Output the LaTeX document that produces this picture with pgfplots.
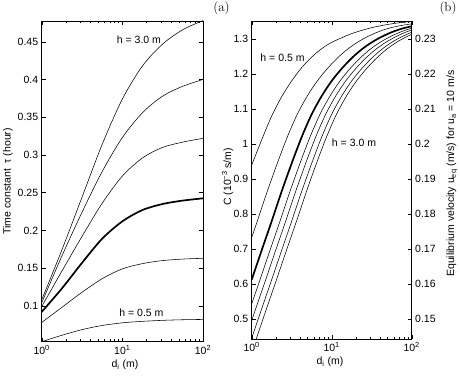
\documentclass[border=0pt]{standalone}
\usepackage{fontspec}
\newfontfamily\arial{Liberation Sans}
\usepackage{pgfplots}
\pgfplotsset{compat=1.18}

\pgfplotsset{
  matlab/.style={
    scale only axis, clip=true,
    font=\arial\fontsize{10.5}{12.5}\selectfont,
    xmin=0, xmax=2,
    xtick={0,1,2},
    xticklabels={10\textsuperscript{0},10\textsuperscript{1},10\textsuperscript{2}},
    minor xtick={0.30103,0.47712,0.60206,0.69897,0.77815,0.84510,0.90309,0.95424,
                 1.30103,1.47712,1.60206,1.69897,1.77815,1.84510,1.90309,1.95424},
    tick align=inside,
    major tick length=4pt, minor tick length=2.2pt,
    every tick/.style={black, line width=0.4pt},
    axis line style={black, line width=0.5pt},
    thin curve/.style={black, line width=0.55pt, smooth, no marks},
    thick curve/.style={black, line width=1.7pt, smooth, no marks},
  }
}

\begin{document}
\begin{tikzpicture}
\path[use as bounding box] (0,0) rectangle (460pt,377pt);

% ---- panel (a)
\begin{axis}[matlab,
  at={(41.7pt,35.3pt)}, anchor=south west,
  width=161.3pt, height=320.7pt,
  ymin=0.0525, ymax=0.4775,
  ytick={0.1,0.15,0.2,0.25,0.3,0.35,0.4,0.45},
  yticklabels={0.1,0.15,0.2,0.25,0.3,0.35,0.4,0.45},
  xlabel={d\textsubscript{i} (m)},
  xlabel style={at={(axis description cs:0.516,-0.073)}, anchor=center},
  ylabel={Time constant \ τ (hour)},
  ylabel style={at={(axis description cs:-0.209,0.5)}, anchor=center},
]
\addplot[thin curve] coordinates {(0,0.0525)(0.25,0.061)(0.5,0.0685)(0.75,0.074)(1,0.0775)(1.25,0.0795)(1.5,0.0808)(1.75,0.0816)(2,0.082)};
\addplot[thin curve] coordinates {(0,0.078)(0.25,0.098)(0.5,0.118)(0.75,0.136)(1,0.149)(1.25,0.156)(1.5,0.160)(1.75,0.162)(2,0.163)};
\addplot[thick curve] coordinates {(0,0.092)(0.25,0.123)(0.5,0.157)(0.75,0.189)(1,0.212)(1.25,0.227)(1.5,0.235)(1.75,0.2395)(2,0.2425)};
\addplot[thin curve] coordinates {(0,0.099)(0.25,0.146)(0.5,0.192)(0.75,0.236)(1,0.272)(1.25,0.296)(1.5,0.310)(1.75,0.317)(2,0.322)};
\addplot[thin curve] coordinates {(0,0.104)(0.25,0.166)(0.5,0.224)(0.75,0.278)(1,0.323)(1.25,0.356)(1.5,0.378)(1.75,0.391)(2,0.400)};
\addplot[thin curve] coordinates {(0,0.108)(0.25,0.174)(0.5,0.244)(0.75,0.314)(1,0.374)(1.25,0.418)(1.5,0.447)(1.75,0.466)(2,0.478)};
\node at (axis cs:1.206,0.4523) {h = 3.0 m};
\node at (axis cs:1.237,0.0907) {h = 0.5 m};
\end{axis}

% ---- panel (b), left scale
\begin{axis}[matlab,
  at={(251.7pt,38pt)}, anchor=south west,
  width=160pt, height=318pt,
  ymin=0.4437, ymax=1.351,
  ytick={0.5,0.6,0.7,0.8,0.9,1,1.1,1.2,1.3},
  yticklabels={0.5,0.6,0.7,0.8,0.9,1,1.1,1.2,1.3},
  ytick pos=left,
  xlabel={d\textsubscript{i} (m)},
  xlabel style={at={(axis description cs:0.489,-0.072)}, anchor=center},
  ylabel={C (10\textsuperscript{−3} s/m)},
  ylabel style={at={(axis description cs:-0.151,0.51)}, anchor=center},
]
% h = 0.5 m
\addplot[thin curve] coordinates {(0,0.94)(0.125,1.012)(0.25,1.08)(0.375,1.135)(0.5,1.18)(0.625,1.218)(0.75,1.248)(0.875,1.272)(1.0,1.29)(1.25,1.315)(1.5,1.332)(1.75,1.343)(2,1.35)};
% h = 1.0 m
\addplot[thin curve] coordinates {(-0.055,0.697)(0.07,0.78)(0.195,0.865)(0.32,0.945)(0.445,1.02)(0.57,1.085)(0.695,1.137)(0.82,1.18)(0.945,1.215)(1.07,1.245)(1.195,1.27)(1.32,1.29)(1.445,1.306)(1.57,1.319)(1.695,1.329)(1.82,1.336)(1.945,1.341)(2.07,1.345)};
% thick
\addplot[thick curve] coordinates {(0,0.613)(0.125,0.697)(0.25,0.78)(0.375,0.865)(0.5,0.945)(0.625,1.02)(0.75,1.085)(0.875,1.137)(1.0,1.18)(1.125,1.215)(1.25,1.245)(1.375,1.27)(1.5,1.29)(1.625,1.306)(1.75,1.319)(1.875,1.329)(2.0,1.336)};
\addplot[thin curve] coordinates {(-0.021,0.53)(0.104,0.613)(0.229,0.697)(0.354,0.78)(0.479,0.865)(0.604,0.945)(0.729,1.02)(0.854,1.085)(0.979,1.137)(1.104,1.18)(1.229,1.215)(1.354,1.245)(1.479,1.27)(1.604,1.29)(1.729,1.306)(1.854,1.319)(1.979,1.329)(2.104,1.336)};
\addplot[thin curve] coordinates {(-0.075,0.446)(0.05,0.53)(0.175,0.613)(0.3,0.697)(0.425,0.78)(0.55,0.865)(0.675,0.945)(0.8,1.02)(0.925,1.085)(1.05,1.137)(1.175,1.18)(1.3,1.215)(1.425,1.245)(1.55,1.27)(1.675,1.29)(1.8,1.306)(1.925,1.319)(2.05,1.329)};
\addplot[thin curve] coordinates {(-0.125,0.36)(0,0.446)(0.125,0.53)(0.25,0.613)(0.375,0.697)(0.5,0.78)(0.625,0.865)(0.75,0.945)(0.875,1.02)(1.0,1.085)(1.125,1.137)(1.25,1.18)(1.375,1.215)(1.5,1.245)(1.625,1.27)(1.75,1.29)(1.875,1.306)(2.0,1.319)};
% h = 3.0 m
\addplot[thin curve] coordinates {(-0.065,0.36)(0.06,0.446)(0.185,0.53)(0.31,0.613)(0.435,0.697)(0.56,0.78)(0.685,0.865)(0.81,0.945)(0.935,1.02)(1.06,1.085)(1.185,1.137)(1.31,1.18)(1.435,1.215)(1.56,1.245)(1.685,1.27)(1.81,1.29)(1.935,1.306)(2.06,1.319)};
\node at (axis cs:0.385,1.2457) {h = 0.5 m};
\node at (axis cs:1.279,1.003) {h = 3.0 m};
\end{axis}

% ---- panel (b), right scale
\begin{axis}[matlab,
  at={(251.7pt,38pt)}, anchor=south west,
  width=160pt, height=318pt,
  axis x line=none, axis y line*=right,
  ymin=0.14437, ymax=0.2351,
  ytick={0.15,0.16,0.17,0.18,0.19,0.2,0.21,0.22,0.23},
  yticklabels={0.15,0.16,0.17,0.18,0.19,0.2,0.21,0.22,0.23},
  ylabel={Equilibrium velocity u\textsubscript{eq} (m/s) for u\textsubscript{a} = 10 m/s},
  ylabel style={at={(axis description cs:1.252,0.52)}, anchor=center},
]
\end{axis}

\node[font=\fontsize{13}{15}\selectfont] at (221.5pt,369pt) {(a)};
\node[font=\fontsize{13}{15}\selectfont] at (448pt,369pt) {(b)};
\end{tikzpicture}
\end{document}
